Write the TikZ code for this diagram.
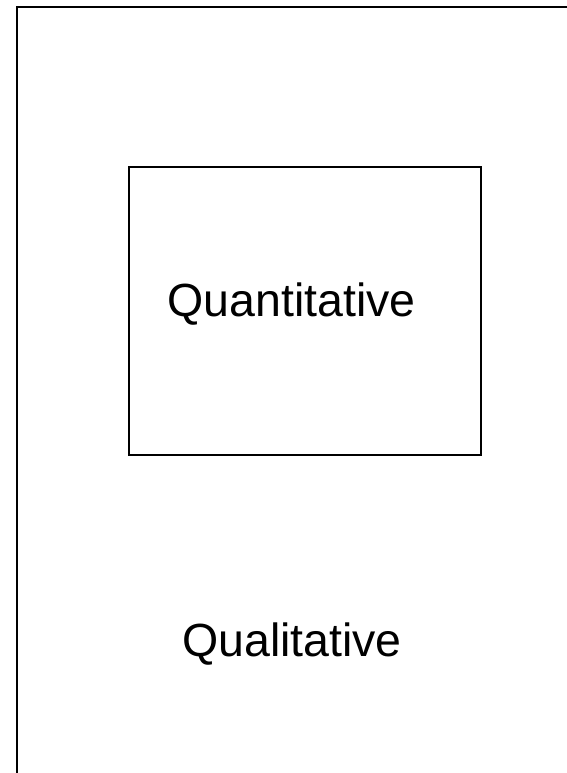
\documentclass[tikz,border=0pt]{standalone}
\usepackage{fontspec}
\setmainfont{Liberation Sans}
\begin{document}
\begin{tikzpicture}[x=1pt,y=1pt,
  frameline/.style={line width=2pt},
  boxstyle/.style={draw,line width=1.6pt,rectangle,inner sep=0pt},
  labelstyle/.style={font=\fontsize{46.5}{50}\selectfont,anchor=base,inner sep=0pt}]
\useasboundingbox (0,0) rectangle (567,773);
\coordinate (fbottom) at (17,0);
\coordinate (fcorner) at (17,766);
\coordinate (fright) at (567,766);
\draw[frameline] (fbottom) -- (fcorner) -- (fright);
\node[boxstyle,minimum width=352pt,minimum height=288pt] (quantbox) at (305,462) {};
\node[labelstyle] (quant) at (291.5,456.3) {Quantitative};
\node[labelstyle] (qual) at (292,116.3) {Qualitative};
\end{tikzpicture}
\end{document}
